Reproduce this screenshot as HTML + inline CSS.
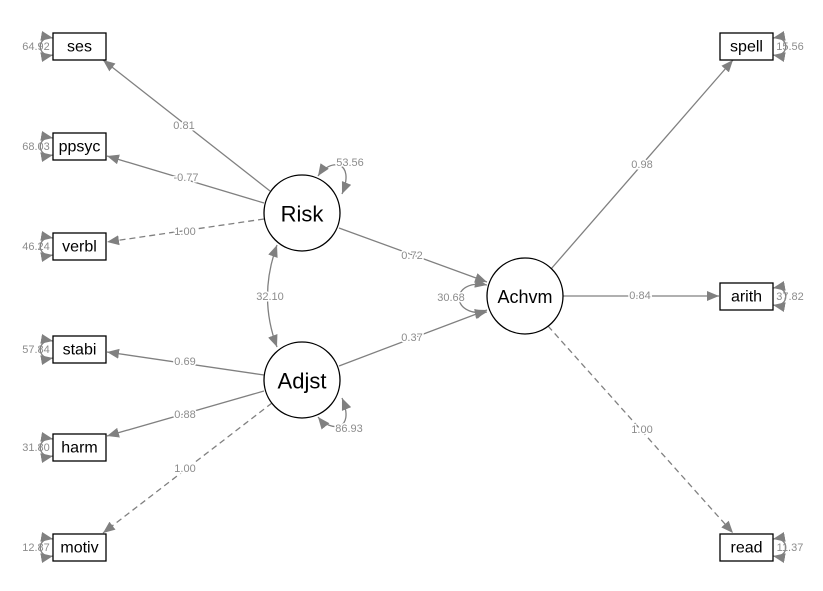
<!DOCTYPE html>
<html><head><meta charset="utf-8"><style>
html,body{margin:0;padding:0;background:#fff;}
svg{display:block;font-family:"Liberation Sans",Arial,sans-serif;}
.l{stroke:#808080;stroke-width:1.3;fill:none;}
.d{stroke-dasharray:6,4;}
.t{font-size:11px;fill:#8c8c8c;text-anchor:middle;dominant-baseline:central;paint-order:stroke;stroke:#fff;stroke-width:3px;}
.r{font-size:11px;fill:#8c8c8c;text-anchor:middle;dominant-baseline:central;}
.b{fill:#fff;stroke:#000;stroke-width:1.3;}
.n{font-size:16px;fill:#000;text-anchor:middle;dominant-baseline:central;}
.c{font-size:22px;fill:#000;text-anchor:middle;dominant-baseline:central;}
</style></head><body>
<svg width="823" height="591" viewBox="0 0 823 591">
<defs>
<marker id="a" viewBox="0 0 12 10" refX="12" refY="5" markerWidth="12" markerHeight="10" markerUnits="userSpaceOnUse" orient="auto-start-reverse">
<path d="M0,0L12,5L0,10z" fill="#808080"/></marker>
</defs>
<path class="l" d="M270,191 L103,60" marker-end="url(#a)"/>
<path class="l" d="M264,203 L107,156" marker-end="url(#a)"/>
<path class="l d" d="M264,219 L107,242" marker-end="url(#a)"/>
<text class="t" x="184" y="126">0.81</text>
<text class="t" x="186" y="178">-0.77</text>
<text class="t" x="185" y="232">1.00</text>
<path class="l" d="M264,375 L107,352" marker-end="url(#a)"/>
<path class="l" d="M264,391 L107,436" marker-end="url(#a)"/>
<path class="l d" d="M272,403 L103,533" marker-end="url(#a)"/>
<text class="t" x="185" y="362">0.69</text>
<text class="t" x="185" y="415">0.88</text>
<text class="t" x="185" y="469">1.00</text>
<path class="l" d="M277,245 Q258,297 277,347" marker-start="url(#a)" marker-end="url(#a)"/>
<text class="t" x="270" y="297">32.10</text>
<path class="l" d="M318,176 C330,158 356,160 342,194" marker-start="url(#a)" marker-end="url(#a)"/>
<text class="t" x="350" y="163">53.56</text>
<path class="l" d="M318,417 C330,432 356,432 342,398" marker-start="url(#a)" marker-end="url(#a)"/>
<text class="t" x="349" y="429">86.93</text>
<path class="l" d="M339,228 L487,282" marker-end="url(#a)"/>
<path class="l" d="M339,366 L487,310" marker-end="url(#a)"/>
<text class="t" x="412" y="256">0.72</text>
<text class="t" x="412" y="338">0.37</text>
<path class="l" d="M487,285 C450,278 450,318 487,312" marker-start="url(#a)" marker-end="url(#a)"/>
<text class="t" x="451" y="298">30.68</text>
<path class="l" d="M551,269 L733,60" marker-end="url(#a)"/>
<path class="l" d="M563,296 L719,296" marker-end="url(#a)"/>
<path class="l d" d="M548,326 L733,533" marker-end="url(#a)"/>
<text class="t" x="642" y="165">0.98</text>
<text class="t" x="640" y="296">0.84</text>
<text class="t" x="642" y="430">1.00</text>
<g>
<path class="l" d="M53,38 C36,35 36,58 53,55" marker-start="url(#a)" marker-end="url(#a)"/><text class="r" x="36" y="47">64.92</text>
<path class="l" d="M53,138 C36,135 36,158 53,155" marker-start="url(#a)" marker-end="url(#a)"/><text class="r" x="36" y="147">68.03</text>
<path class="l" d="M53,238 C36,235 36,258 53,255" marker-start="url(#a)" marker-end="url(#a)"/><text class="r" x="36" y="247">46.24</text>
<path class="l" d="M53,341 C36,338 36,361 53,358" marker-start="url(#a)" marker-end="url(#a)"/><text class="r" x="36" y="350">57.84</text>
<path class="l" d="M53,439 C36,436 36,459 53,456" marker-start="url(#a)" marker-end="url(#a)"/><text class="r" x="36" y="448">31.80</text>
<path class="l" d="M53,539 C36,536 36,559 53,556" marker-start="url(#a)" marker-end="url(#a)"/><text class="r" x="36" y="548">12.87</text>
</g>
<path class="l" d="M773,38 C790,35 790,58 773,55" marker-start="url(#a)" marker-end="url(#a)"/><text class="r" x="790" y="47">15.56</text>
<path class="l" d="M773,288 C790,285 790,308 773,305" marker-start="url(#a)" marker-end="url(#a)"/><text class="r" x="790" y="297">37.82</text>
<path class="l" d="M773,539 C790,536 790,559 773,556" marker-start="url(#a)" marker-end="url(#a)"/><text class="r" x="790" y="548">11.37</text>
<rect class="b" x="53" y="33" width="53" height="27"/><text class="n" x="79.5" y="47">ses</text>
<rect class="b" x="53" y="133" width="53" height="27"/><text class="n" x="79.5" y="147">ppsyc</text>
<rect class="b" x="53" y="233" width="53" height="27"/><text class="n" x="79.5" y="247">verbl</text>
<rect class="b" x="53" y="336" width="53" height="27"/><text class="n" x="79.5" y="350">stabi</text>
<rect class="b" x="53" y="434" width="53" height="27"/><text class="n" x="79.5" y="448">harm</text>
<rect class="b" x="53" y="534" width="53" height="27"/><text class="n" x="79.5" y="548">motiv</text>
<rect class="b" x="720" y="33" width="53" height="27"/><text class="n" x="746.5" y="47">spell</text>
<rect class="b" x="720" y="283" width="53" height="27"/><text class="n" x="746.5" y="297">arith</text>
<rect class="b" x="720" y="534" width="53" height="27"/><text class="n" x="746.5" y="548">read</text>
<circle class="b" cx="302" cy="213" r="38"/><text class="c" x="302" y="214">Risk</text>
<circle class="b" cx="302" cy="380" r="38"/><text class="c" x="302" y="381">Adjst</text>
<circle class="b" cx="525" cy="296" r="38"/><text class="n" x="525" y="297" style="font-size:18px">Achvm</text>
</svg>
</body></html>
